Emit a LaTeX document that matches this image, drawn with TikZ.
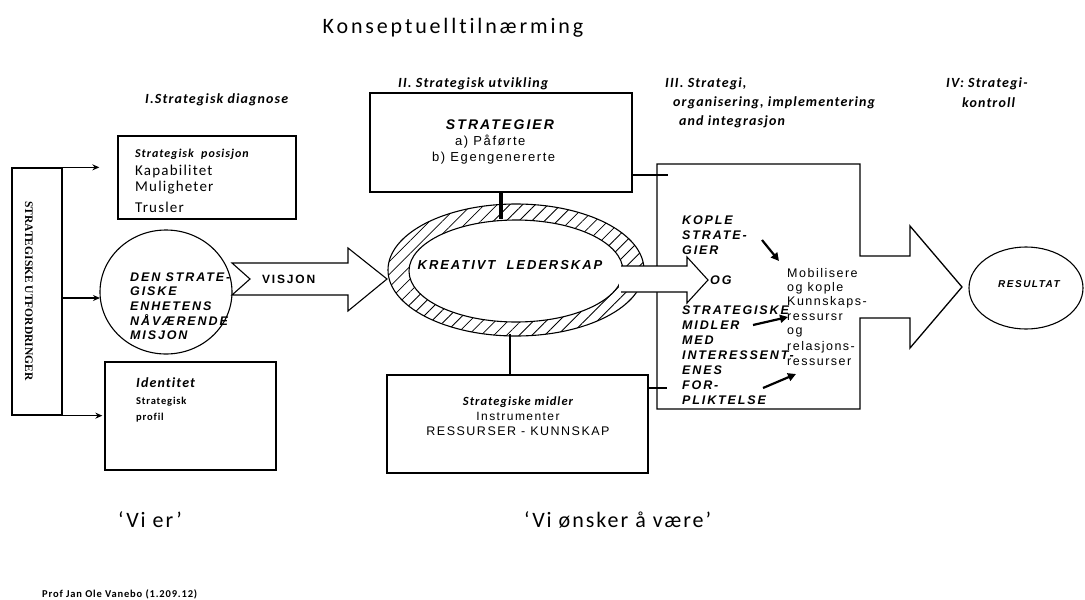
\documentclass[tikz,border=0pt]{standalone}
\usepackage{fontspec}
\setmainfont{Carlito}
\newfontfamily\calfont[LetterSpace=8,Ligatures=NoCommon]{Carlito}
\newfontfamily\titlefont[LetterSpace=13,Ligatures=NoCommon]{Carlito}
\newfontfamily\quotefont[LetterSpace=9,Ligatures=NoCommon]{Carlito}
\newfontfamily\arifont[LetterSpace=12]{Liberation Sans}
\newfontfamily\capsfont[LetterSpace=15]{Liberation Sans}
\newfontfamily\serffont{Liberation Serif}
\usetikzlibrary{shapes.geometric,arrows.meta,patterns.meta}
\newcommand\fsz[1]{\fontsize{#1}{#1}\selectfont}

\begin{document}
\begin{tikzpicture}[x=1pt,y=-1pt,
  box/.style={draw,line width=1.3pt,rectangle,inner sep=0pt},
  oval/.style={draw,line width=1.1pt,ellipse,inner sep=0pt},
  lbl/.style={anchor=west,inner sep=0pt},
  head/.style={lbl,font=\calfont\bfseries\itshape\fsz{14}},
  plain/.style={lbl,font=\calfont\fsz{15}},
  caps/.style={lbl,font=\capsfont\bfseries\itshape\fsz{12.5}},
  ari/.style={lbl,font=\arifont\fsz{13}},
  arr/.style={line width=1.2pt,-{Stealth[length=7pt,width=6pt]}},
  fatarr/.style={line width=2.2pt,-{Triangle[length=8pt,width=8pt]}},
  blockarr/.style={draw,line width=1.1pt,fill=white,line join=miter}]

\useasboundingbox (0,0) rectangle (1085,600);
\fill[white] (0,0) rectangle (1085,600);

% title
\node[inner sep=0pt,font=\titlefont\fsz{22}] (title) at (453,28) {Konseptuelltilnærming};

% phase headings
\node[head] (h1) at (145,100) {I.Strategisk diagnose};
\node[head] (h2) at (398,84) {II. Strategisk utvikling};
\node[head] (h3a) at (665,84) {III. Strategi,};
\node[head] (h3b) at (673,103) {organisering, implementering};
\node[head] (h3c) at (679,122) {and integrasjon};
\node[head] (h4a) at (946,84) {IV: Strategi-};
\node[head] (h4b) at (962,103) {kontroll};

% strategic challenges column
\node[box,minimum width=50,minimum height=247] (leftbox) at (37,291.5) {};
\node[inner sep=0pt,rotate=-90,font=\serffont\bfseries\fsz{11.5}] (lefttxt) at (29,291) {STRATEGISKE UTFORDRINGER};

% strategic position box
\node[box,minimum width=178,minimum height=83] (pos) at (207,177.5) {};
\node[lbl,font=\calfont\bfseries\itshape\fsz{12}] (pos1) at (135,154) {Strategisk\ \ posisjon};
\node[plain] (pos2) at (135,171) {Kapabilitet};
\node[plain] (pos3) at (135,188) {Muligheter};
\node[plain] (pos4) at (135,207) {Trusler};

% mission circle
\node[oval,minimum width=132,minimum height=124] (misjon) at (166,292) {};
\node[caps] (m1) at (130,277) {DEN STRATE-};
\node[caps] (m2) at (130,291) {GISKE};
\node[caps] (m3) at (130,306) {ENHETENS};
\node[caps] (m4) at (130,320) {NÅVÆRENDE};
\node[caps] (m5) at (130,335) {MISJON};

% identity box
\node[box,minimum width=171,minimum height=108] (id) at (190.5,416) {};
\node[head] (id1) at (136,383) {Identitet};
\node[lbl,font=\calfont\bfseries\fsz{10.5}] (id2) at (136,402) {Strategisk};
\node[lbl,font=\calfont\bfseries\fsz{10.5}] (id3) at (136,418) {profil};

% arrows from the challenges column
\coordinate (midtip) at (100,298);
\draw[arr,shorten >=18pt] (leftbox.north east) -- (pos.west |- leftbox.north east);
\draw[arr] (leftbox.east |- midtip) -- (midtip);
\draw[arr,shorten >=2pt] (leftbox.south east) -- (id.west |- leftbox.south east);

% strategies box
\node[box,minimum width=262,minimum height=99] (strat) at (501,142.5) {};
\node[inner sep=0pt,font=\capsfont\bfseries\itshape\fsz{14}] (s1) at (500,125) {STRATEGIER};
\node[ari] (s2) at (455,142) {a) Påførte};
\node[ari] (s3) at (432,158) {b) Egengenererte};

% strategic means box
\node[box,minimum width=261,minimum height=98] (midler) at (517.5,424) {};
\node[inner sep=0pt,font=\calfont\bfseries\itshape\fsz{12.5}] (mi1) at (518,402) {Strategiske midler};
\node[inner sep=0pt,font=\arifont\fsz{12}] (mi2) at (518,416) {Instrumenter};
\node[inner sep=0pt,font=\arifont\fsz{12.5}] (mi3) at (518,431) {RESSURSER - KUNNSKAP};

% creative leadership ring
\fill[pattern={Lines[angle=45,distance=9pt,line width=0.8pt]},even odd rule]
  (516,270) ellipse [x radius=128,y radius=66]
  (516,271) ellipse [x radius=107,y radius=51];
\node[oval,minimum width=256,minimum height=132] (ring) at (516,270) {};
\node[oval,fill=white,minimum width=214,minimum height=102] (kreativ) at (516,271) {};
\node[inner sep=0pt,font=\capsfont\bfseries\itshape\fsz{13}] (kt) at (510,265) {KREATIVT\ \ LEDERSKAP};

% links between the central boxes and the ring
\coordinate (ringbot) at (510,334);
\draw[line width=3.5pt] (strat.south) -- (strat.south |- kreativ.north);
\draw[line width=2.5pt] (ringbot) -- (ringbot |- midler.north);

% vision arrow
\draw[blockarr] (232,263) -- (348,263) -- (348,248) -- (387,279) -- (348,311)
  -- (348,295) -- (232,295) -- (250,279) -- cycle;
\node[lbl,font=\capsfont\bfseries\fsz{12}] (vis) at (262,279) {VISJON};

% implementation box with the result arrow
\draw[line width=1.3pt,line join=miter] (657,164) coordinate (b3nw) -- (860,164) -- (860,256) -- (910,256)
  -- (910,226) -- (962,287) coordinate (b3tip) -- (910,348) -- (910,318) -- (860,318) -- (860,409)
  -- (657,409) coordinate (b3sw) -- cycle;

% ticks joining the boxes
\coordinate (tickA) at (668,175);
\coordinate (tickB) at (667,388);
\draw[line width=2.6pt] (strat.east |- tickA) -- (tickA);
\draw[line width=2.6pt] (midler.east |- tickB) -- (tickB);

% arrow from the ring into the implementation box
\fill[white] (619,266) -- (687,266) -- (687,257) -- (708,280) -- (687,303) -- (687,292) -- (619,292) -- cycle;
\draw[line width=1.1pt,line join=miter] (621,266) -- (687,266) -- (687,257) -- (708,280) -- (687,303) -- (687,292) -- (621,292);

% texts in the implementation box
\node[caps] (k1) at (682,220) {KOPLE};
\node[caps] (k2) at (682,235) {STRATE-};
\node[caps] (k3) at (682,250) {GIER};
\node[caps] (og) at (710,280) {OG};
\node[caps] (k4) at (682,310) {STRATEGISKE};
\node[caps] (k5) at (682,325) {MIDLER};
\node[caps] (k6) at (682,340) {MED};
\node[caps] (k7) at (682,355) {INTERESSENT-};
\node[caps] (k8) at (682,370) {ENES};
\node[caps] (k9) at (682,385) {FOR-};
\node[caps] (k10) at (682,400) {PLIKTELSE};

\node[ari,font=\arifont\fsz{12.5}] (r1) at (787,273) {Mobilisere};
\node[ari,font=\arifont\fsz{12.5}] (r2) at (787,288) {og kople};
\node[ari,font=\arifont\fsz{12.5}] (r3) at (787,302) {Kunnskaps-};
\node[ari,font=\arifont\fsz{12.5}] (r4) at (787,317) {ressursr};
\node[ari,font=\arifont\fsz{12.5}] (r5) at (787,332) {og};
\node[ari,font=\arifont\fsz{12.5}] (r6) at (787,347) {relasjons-};
\node[ari,font=\arifont\fsz{12.5}] (r7) at (787,362) {ressurser};

\coordinate (fa1s) at (762,240); \coordinate (fa1e) at (779,261);
\coordinate (fa2s) at (753,325); \coordinate (fa2e) at (788,317);
\coordinate (fa3s) at (763,388); \coordinate (fa3e) at (796,374);
\draw[fatarr] (fa1s) -- (fa1e);
\draw[fatarr] (fa2s) -- (fa2e);
\draw[fatarr] (fa3s) -- (fa3e);

% result
\node[oval,minimum width=114,minimum height=82] (resultat) at (1026,288) {};
\node[inner sep=0pt,font=\capsfont\bfseries\itshape\fsz{10}] (rt) at (1029,284) {RESULTAT};

% bottom captions
\node[lbl,font=\quotefont\fsz{22}] (vier) at (118,520) {‘Vi er’};
\node[lbl,font=\quotefont\fsz{22}] (vionsker) at (524,520) {‘Vi ønsker å være’};
\node[lbl,font=\calfont\bfseries\fsz{10.5}] (prof) at (42,594) {Prof Jan Ole Vanebo (1.209.12)};

\end{tikzpicture}
\end{document}
